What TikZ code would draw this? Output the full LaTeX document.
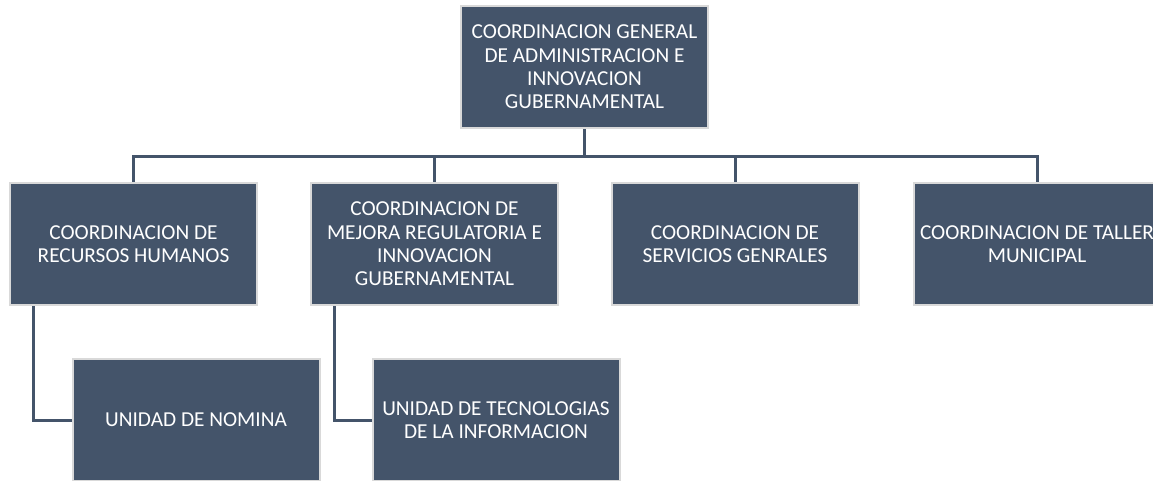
\documentclass[tikz,border=0pt]{standalone}
\usepackage{fontspec}
\setmainfont{Carlito}
\definecolor{cajaazul}{HTML}{44546A}
\definecolor{bordecaja}{HTML}{D9D9D9}
\tikzset{
  caja/.style={rectangle, fill=cajaazul, draw=bordecaja, line width=2pt,
    minimum width=247pt, minimum height=122pt, inner sep=0pt,
    text=white, align=center, font=\fontsize{21.3}{23.4}\selectfont},
  linea/.style={draw=cajaazul, line width=3pt}
}
\begin{document}
\begin{tikzpicture}[x=1pt,y=-1pt] %Organigrama de administracion
        \clip (0,0) rectangle (1153,480);

        \coordinate (G) at (584.5,67);

        \coordinate (A) at (133.5,244);
        \coordinate (B) at (434.5,244);
        \coordinate (C) at (735,244);
        \coordinate (D) at (1037,244);

        \coordinate (E) at (196,420);
        \coordinate (F) at (496,420);

        \node[caja] (general) at (G) {COORDINACION GENERAL\\DE ADMINISTRACION E\\INNOVACION\\GUBERNAMENTAL};

        \node[caja] (humanos) at (A) {COORDINACION DE\\RECURSOS HUMANOS};
        \node[caja] (mejora) at (B) {COORDINACION DE\\MEJORA REGULATORIA E\\INNOVACION\\GUBERNAMENTAL};
        \node[caja] (servicios) at (C) {COORDINACION DE\\SERVICIOS GENRALES};
        \node[caja] (taller) at (D) {COORDINACION DE TALLER\\MUNICIPAL};

        \node[caja] (nomina) at (E) {UNIDAD DE NOMINA};
        \node[caja] (tecno) at (F) {UNIDAD DE TECNOLOGIAS\\DE LA INFORMACION};

        \draw[linea] (general.south) -- ++(0,27) -| (humanos.north);
        \draw[linea] (general.south) -- ++(0,27) -| (mejora.north);
        \draw[linea] (general.south) -- ++(0,27) -| (servicios.north);
        \draw[linea] (general.south) -- ++(0,27) -| (taller.north);

        \draw[linea] (humanos.south west) ++(24,0) |- (nomina.west);
        \draw[linea] (mejora.south west) ++(24,0) |- (tecno.west);
    \end{tikzpicture}
\end{document}
